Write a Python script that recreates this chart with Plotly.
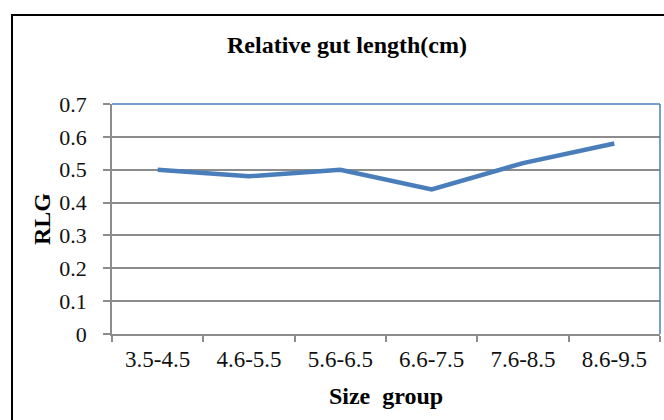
import plotly.graph_objects as go

categories = ["3.5-4.5", "4.6-5.5", "5.6-6.5", "6.6-7.5", "7.6-8.5", "8.6-9.5"]
rlg_values = [0.50, 0.48, 0.50, 0.44, 0.52, 0.58]
y_ticks = [0, 0.1, 0.2, 0.3, 0.4, 0.5, 0.6, 0.7]
y_tick_labels = ["0", "0.1", "0.2", "0.3", "0.4", "0.5", "0.6", "0.7"]

W, H = 664, 420
ML, MR, MT, MB = 112, 4, 104, 86
PW, PH = W - ML - MR, H - MT - MB

def px_x(x):
    return (x - ML) / PW

def px_y(y):
    return (H - MB - y) / PH

FONT = "Liberation Serif, Times New Roman, serif"
GRID = "#8c8c8c"
BLUE = "#4a7ebb"

fig = go.Figure()
fig.add_trace(go.Scatter(
    x=categories, y=rlg_values, mode="lines",
    line=dict(color=BLUE, width=4.5),
    hoverinfo="skip", showlegend=False,
))

fig.update_layout(
    width=W, height=H,
    margin=dict(l=ML, r=MR, t=MT, b=MB),
    paper_bgcolor="white", plot_bgcolor="white",
    font=dict(family=FONT, color="black"),
    title=dict(
        text="<b>Relative gut length(cm)</b>",
        font=dict(family=FONT, size=24, color="black"),
        x=347 / W, xref="container", xanchor="center",
        y=1 - 45 / H, yref="container", yanchor="middle",
    ),
    xaxis=dict(
        type="category",
        range=[-0.5, 5.5],
        showgrid=False,
        showline=True, linecolor=GRID, linewidth=1.5,
        ticks="outside", ticklen=6, tickcolor=GRID, tickwidth=1.5,
        tickson="boundaries",
        tickfont=dict(family=FONT, size=23, color="#111111"),
        ticklabelstandoff=4,
        title=dict(text="<b>Size  group</b>", font=dict(family=FONT, size=24, color="black"), standoff=16),
        zeroline=False,
    ),
    yaxis=dict(
        range=[0, 0.7],
        tickvals=y_ticks, ticktext=y_tick_labels,
        showgrid=True, gridcolor=GRID, gridwidth=1.5,
        showline=True, linecolor=GRID, linewidth=1.5,
        ticks="outside", ticklen=7, tickcolor=GRID, tickwidth=1.5,
        tickfont=dict(family=FONT, size=22, color="#111111"),
        ticklabelstandoff=12,
        title=dict(text="<b>RLG</b>", font=dict(family=FONT, size=24, color="black"), standoff=2),
        zeroline=False,
    ),
    shapes=[
        dict(type="line", xref="paper", yref="paper", x0=0, x1=1, y0=1, y1=1,
             line=dict(color=BLUE, width=1.5), layer="above"),
        dict(type="line", xref="paper", yref="paper", x0=1, x1=1, y0=0, y1=1,
             line=dict(color=BLUE, width=1.5), layer="above"),
        dict(type="rect", xref="paper", yref="paper",
             x0=px_x(12), x1=px_x(680), y0=px_y(15), y1=px_y(440),
             line=dict(color="black", width=2), fillcolor="rgba(0,0,0,0)", layer="above"),
    ],
)

fig.write_html("out.html")
